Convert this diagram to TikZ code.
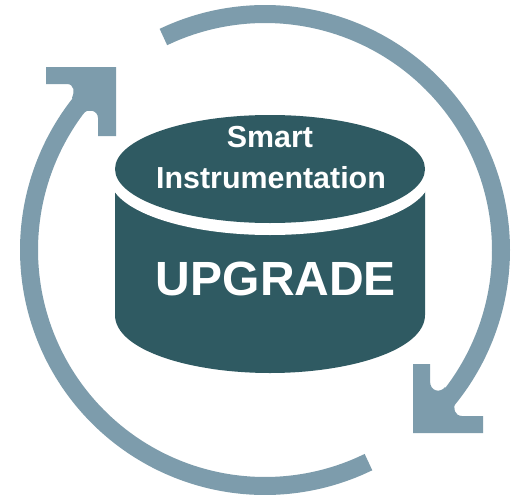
\documentclass[tikz,border=0pt]{standalone}
\usepackage{fontspec}
\setmainfont{Liberation Sans}
\definecolor{ringc}{HTML}{7D9CAC}
\definecolor{drumc}{HTML}{2F5A62}
\tikzset{ring/.style={draw=ringc,line width=13.5pt,line cap=butt},
 tip/.style={fill=ringc,draw=none},
 lbl/.style={text=white,inner sep=0pt}}
\begin{document}
\begin{tikzpicture}[x=0.75pt,y=-0.75pt]
\useasboundingbox (0,0) rectangle (514,496);
\fill[white] (0,0) rectangle (514,496);
% right arc
\draw[ring] plot[smooth,samples=60,domain=244.5:403] ({265+236*cos(\x)},{250+236*sin(\x)});
\fill[tip] (413,364) -- (430,364) -- (430,381) .. controls (430,392) and (441,393) .. (445,387) -- (456,402) .. controls (452,408) and (455,416) .. (462,416) -- (483,416) -- (483,433) -- (413,433) -- cycle;
% left arc
\draw[ring] plot[smooth,samples=60,domain=64:220] ({265+236*cos(\x)},{250+236*sin(\x)});
\fill[tip] (46,67) -- (116,67) -- (116,136) -- (98,136) -- (98,118) .. controls (98,110) and (87,108) .. (83,114) -- (72,98) .. controls (75,92) and (74,84) .. (67,84) -- (46,84) -- cycle;
% drum
\path[fill=drumc] (115,180) -- (115,315) .. controls (115,350) and (190,373) .. (270,373) .. controls (350,373) and (425,350) .. (425,315) -- (425,180) -- cycle;
\fill[white] (270,178) ellipse [x radius=160,y radius=57];
\fill[drumc] (270,169) ellipse [x radius=155,y radius=54];
\node[lbl,font=\bfseries\fontsize{22.8pt}{24pt}\selectfont] (t1) at (270,137) {Smart};
\node[lbl,font=\bfseries\fontsize{22.8pt}{24pt}\selectfont] (t2) at (271,178) {Instrumentation};
\node[lbl,font=\bfseries\fontsize{36pt}{38pt}\selectfont] (t3) at (276,279) {UPGRADE};
\end{tikzpicture}
\end{document}
